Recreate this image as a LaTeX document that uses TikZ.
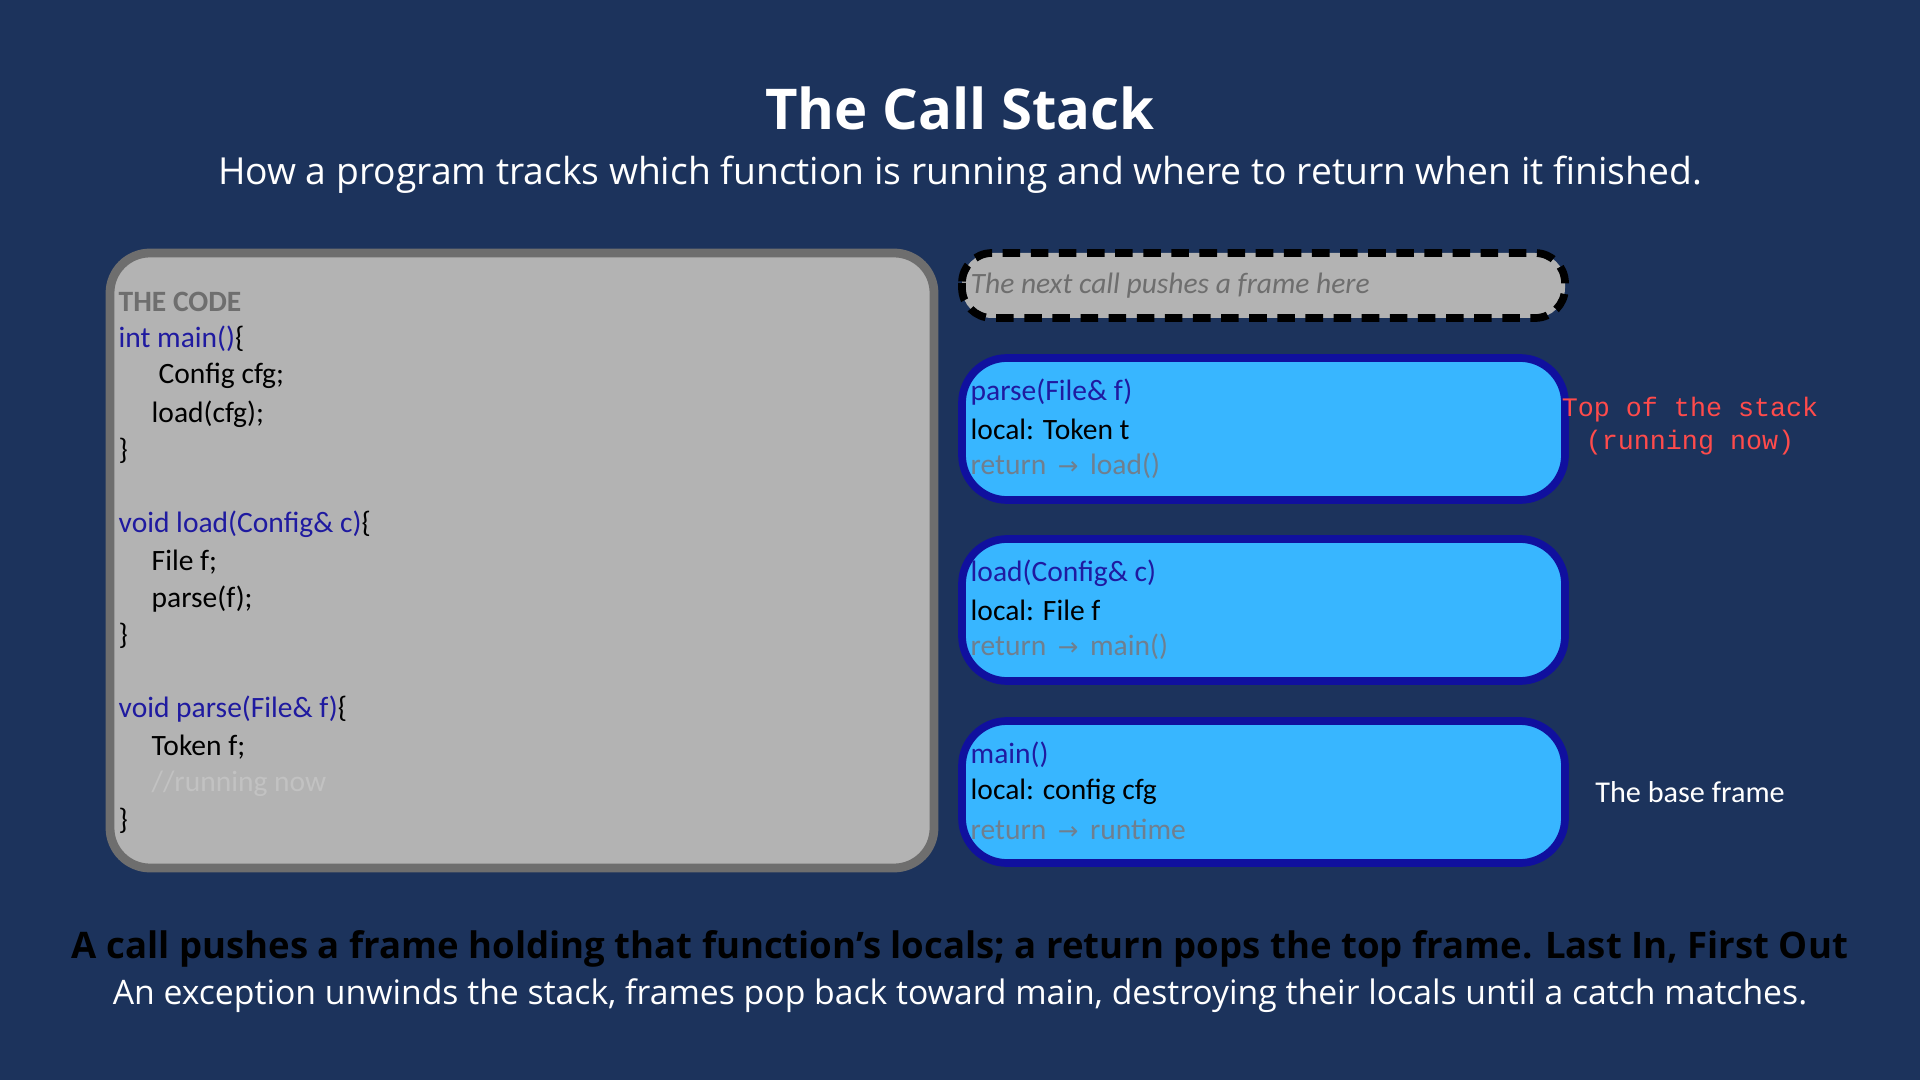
\documentclass[tikz,border=0pt]{standalone}
\usepackage{fontspec}
\setmainfont{Open Sans}
\newfontfamily\codefont{Carlito}
\newfontfamily\monofont{Liberation Mono}
\definecolor{bgblue}{HTML}{1C335C}
\definecolor{codegray}{HTML}{B3B3B3}
\definecolor{codeedge}{HTML}{6E6E6E}
\definecolor{frameblue}{HTML}{38B6FF}
\definecolor{frameedge}{HTML}{10109E}
\definecolor{kwblue}{HTML}{1F1AA0}
\definecolor{retgray}{HTML}{6F7F8F}
\definecolor{topred}{HTML}{FF4B4B}

\begin{document}
\begin{tikzpicture}[%
	x=1cm,y=-1cm,%
	codeline/.style ={anchor=west, inner sep=0pt, font=\codefont\fontsize{8.4}{10}\selectfont},%
	frame/.style ={draw=frameedge, line width=2.2pt, fill=frameblue, rounded corners=0.45cm},%
	]
\useasboundingbox [fill=bgblue] (0,0) rectangle (19.2,10.8);
%%% title
	\node [white, font=\bfseries\fontsize{16}{18}\selectfont] (title) at (9.6,1.08) {The Call Stack};
	\node [white, font=\fontsize{10.6}{12}\selectfont] (subtitle) at (9.6,1.75) {How a program tracks which function is running and where to return when it finished.};
%%% title
%%% code
	\draw [codeedge, line width=2.5pt, fill=codegray, rounded corners=0.4cm] (1.1,2.53) rectangle (9.34,8.68);
	\node [codeline, text=codeedge, font=\codefont\bfseries\fontsize{8.4}{10}\selectfont] (head) at (1.18,3.02) {THE CODE};
	\foreach \n/\y/\txt in {a/3.39/{\textcolor{kwblue}{int main()}\{},
		b/3.76/{\hspace*{0.4cm}Config cfg;},
		c/4.14/{\hspace*{0.33cm}load(cfg);},
		d/4.51/{\}},
		e/5.24/{\textcolor{kwblue}{void load(Config\& c)}\{},
		f/5.62/{\hspace*{0.33cm}File f;},
		g/5.99/{\hspace*{0.33cm}parse(f);},
		h/6.36/{\}},
		i/7.09/{\textcolor{kwblue}{void parse(File\& f)}\{},
		j/7.47/{\hspace*{0.33cm}Token f;},
		k/7.84/{\hspace*{0.33cm}\textcolor{codegray!80!white}{//running now}},
		l/8.21/{\}}}
		{\node [codeline] (code-\n) at (1.18,\y) {\txt};}
%%% code
%%% stack
	\draw [black, line width=2.2pt, dash pattern=on 5pt off 3pt, fill=codegray, rounded corners=0.3cm] (9.62,2.53) rectangle (15.65,3.18);
	\node [codeline, text=codeedge, font=\codefont\itshape\fontsize{8.4}{10}\selectfont] (next) at (9.7,2.86) {The next call pushes a frame here};
	\foreach \n/\top/\fn/\loc/\ret in {parse/3.58/parse(File\& f)/local: Token t/load(),
		load/5.39/load(Config\& c)/local: File f/main(),
		main/7.21/main()/local: config cfg/runtime}
	{
		\draw [frame] (9.62,\top) rectangle (15.65,\top+1.42);
		\node [codeline, text=kwblue] (\n-fn) at (9.7,\top+0.34) {\fn};
		\node [codeline] (\n-loc) at (9.7,\top+0.71) {\loc};
		\node [codeline, text=retgray] (\n-ret) at (9.7,\top+1.08) {return \,{\fontspec{DejaVu Sans}\scriptsize→}\, \ret};
	}
	\node [topred, align=center, font=\monofont\fontsize{7.6}{9.5}\selectfont] (toplabel) at (16.9,4.26) {Top of the stack\\(running now)};
	\node [white, font=\codefont\fontsize{8.6}{10}\selectfont] (baselabel) at (16.9,7.92) {The base frame};
%%% stack
%%% footer
	\node [black, font=\bfseries\fontsize{10.4}{12}\selectfont] (rule) at (9.6,9.49) {A call pushes a frame holding that function’s locals; a return pops the top frame. Last In, First Out};
	\node [white, font=\fontsize{9.6}{11}\selectfont] (unwind) at (9.6,9.96) {An exception unwinds the stack, frames pop back toward main, destroying their locals until a catch matches.};
%%% footer
\end{tikzpicture}
\end{document}
